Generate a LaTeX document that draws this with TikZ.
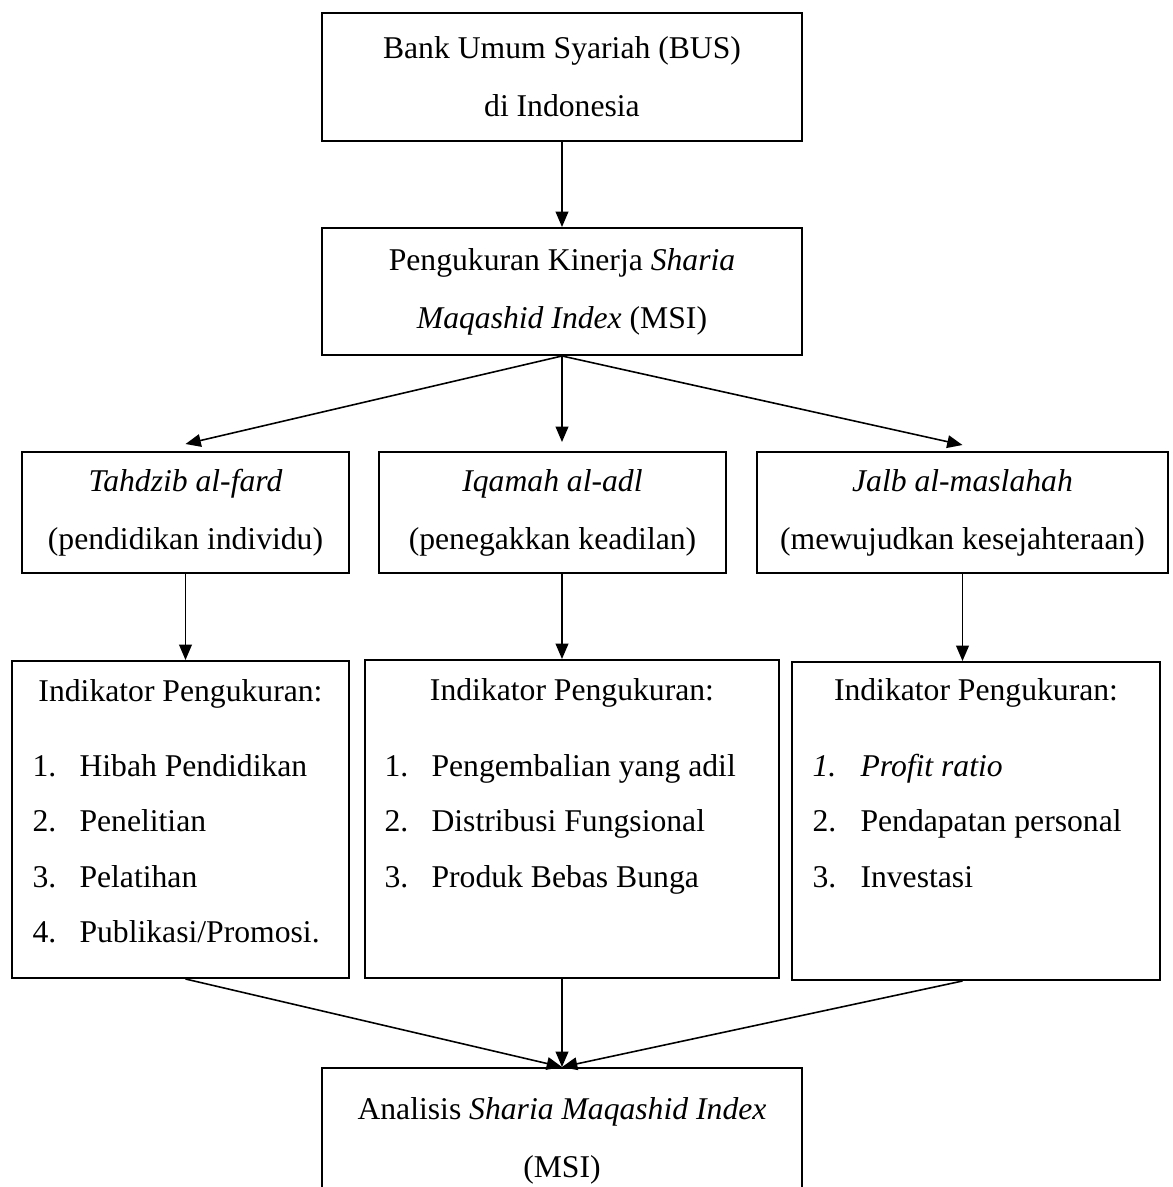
\documentclass[tikz,border=0pt]{standalone}
\usepackage{fontspec}
\setmainfont{Liberation Serif}
\usetikzlibrary{
  arrows.meta,
  positioning,
  calc
}
\newlength\pxl
\setlength\pxl{0.379pt}

\begin{document}
\begin{tikzpicture}[
  x=0.379pt, y=-0.379pt,
  every node/.style={font=\fontsize{12}{22}\selectfont},
  box/.style={draw, line width=0.75pt, inner sep=0pt, align=center},
  conn/.style={draw, line width=0.6pt, -{Triangle[length=5.8pt, width=4.8pt]}},
  itembox/.style={anchor=base west, inner sep=0pt}
]
  \useasboundingbox (0,0) rectangle (1173,1187);

  % top chain
  \node[box, minimum width=480\pxl, minimum height=128\pxl] (bus) at (562,77)
    {Bank Umum Syariah (BUS)\\di Indonesia};
  \node[box, minimum width=480\pxl, minimum height=127\pxl] (msi) at (562,291.5)
    {Pengukuran Kinerja \textit{Sharia}\\\textit{Maqashid Index} (MSI)};

  % three dimensions
  \node[box, minimum width=327\pxl, minimum height=121\pxl] (tahdzib) at (185.5,512.5)
    {\textit{Tahdzib al-fard}\\(pendidikan individu)};
  \node[box, minimum width=347\pxl, minimum height=121\pxl] (iqamah) at (552.5,512.5)
    {\textit{Iqamah al-adl}\\(penegakkan keadilan)};
  \node[box, minimum width=411\pxl, minimum height=121\pxl] (jalb) at (962.5,512.5)
    {\textit{Jalb al-maslahah}\\(mewujudkan kesejahteraan)};

  % indicator boxes
  \node[box, minimum width=337\pxl, minimum height=317\pxl] (indA) at (180.5,819.5) {};
  \node[box, minimum width=414\pxl, minimum height=318\pxl] (indB) at (572,819) {};
  \node[box, minimum width=368\pxl, minimum height=318\pxl] (indC) at (976,821) {};

  \node[anchor=base, inner sep=0pt] (hdA) at ($(indA.north)+(0,41)$) {Indikator Pengukuran:};
  \node[anchor=base, inner sep=0pt] (hdB) at ($(indB.north)+(0,41)$) {Indikator Pengukuran:};
  \node[anchor=base, inner sep=0pt] (hdC) at ($(indC.north)+(0,39)$) {Indikator Pengukuran:};

  \foreach \n/\t [count=\i] in {1./Hibah Pendidikan, 2./Penelitian, 3./Pelatihan, 4./{Publikasi/Promosi.}}
    \node[itembox] (itA\i) at ($(indA.north west)+(21,{116+55.5*(\i-1)})$)
      {\makebox[47\pxl][l]{\n}\t};
  \foreach \n/\t [count=\i] in {1./Pengembalian yang adil, 2./Distribusi Fungsional, 3./Produk Bebas Bunga}
    \node[itembox] (itB\i) at ($(indB.north west)+(20,{117+55.5*(\i-1)})$)
      {\makebox[47\pxl][l]{\n}\t};
  \foreach \n/\t [count=\i] in {\textit{1.}/\textit{Profit ratio}, 2./Pendapatan personal, 3./Investasi}
    \node[itembox] (itC\i) at ($(indC.north west)+(21,{115+55.5*(\i-1)})$)
      {\makebox[48\pxl][l]{\n}\t};

  % result
  \node[box, minimum width=480\pxl, minimum height=146\pxl] (analisis) at (562,1141)
    {Analisis \textit{Sharia Maqashid Index}\\(MSI)};

  % connectors
  \draw[conn] (bus) -- (msi);
  \draw[conn] (msi.south) -- ([yshift=7\pxl]tahdzib.north);
  \draw[conn, shorten >=9\pxl] (msi.south) -- (msi.south |- iqamah.north);
  \draw[conn] (msi.south) -- ([yshift=6\pxl]jalb.north);

  \draw[conn] (tahdzib) -- (tahdzib.south |- indA.north);
  \draw[conn] (msi.south |- iqamah.south) -- (msi.south |- indB.north);
  \draw[conn] (jalb) -- (jalb.south |- indC.north);

  \draw[conn] (tahdzib.south |- indA.south) -- (analisis.north);
  \draw[conn] (msi.south |- indB.south) -- (analisis.north);
  \draw[conn] (jalb.south |- indC.south) -- (analisis.north);
\end{tikzpicture}
\end{document}
